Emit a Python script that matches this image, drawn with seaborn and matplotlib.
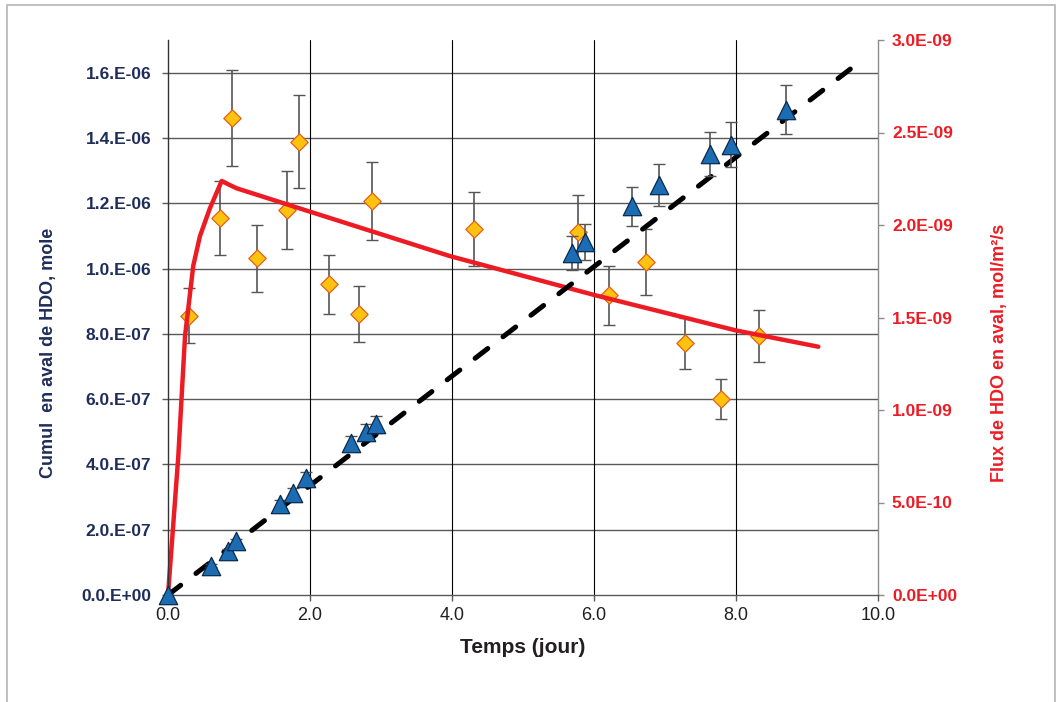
import matplotlib
matplotlib.use('Agg')
import matplotlib.pyplot as plt
import seaborn as sns
from matplotlib.lines import Line2D
from matplotlib.patches import Rectangle

sns.set_theme(style='white')
plt.rcParams['font.family'] = ['Liberation Sans', 'DejaVu Sans']

# cumulative HDO downstream (left axis), triangles
cumul_t = [0.0, 0.61, 0.85, 0.96, 1.58, 1.76, 1.94, 2.58, 2.79, 2.93,
           5.69, 5.87, 6.54, 6.92, 7.64, 7.93, 8.71]
cumul = [0.0, 0.89e-7, 1.35e-7, 1.65e-7, 2.78e-7, 3.12e-7, 3.58e-7, 4.65e-7, 4.99e-7, 5.23e-7,
         10.47e-7, 10.81e-7, 11.90e-7, 12.56e-7, 13.51e-7, 13.79e-7, 14.87e-7]
cumul_err = [0.0, 0.045e-7, 0.07e-7, 0.08e-7, 0.14e-7, 0.16e-7, 0.18e-7, 0.23e-7, 0.25e-7, 0.26e-7,
             0.52e-7, 0.54e-7, 0.60e-7, 0.63e-7, 0.68e-7, 0.69e-7, 0.74e-7]

# HDO flux downstream (right axis), diamonds
flux_t = [0.30, 0.73, 0.90, 1.26, 1.67, 1.85, 2.27, 2.69, 2.87,
          4.31, 5.77, 6.21, 6.73, 7.28, 7.79, 8.32]
flux = [1.51e-9, 2.04e-9, 2.58e-9, 1.82e-9, 2.08e-9, 2.45e-9, 1.68e-9, 1.52e-9, 2.13e-9,
        1.98e-9, 1.96e-9, 1.62e-9, 1.80e-9, 1.36e-9, 1.06e-9, 1.40e-9]
flux_err = [0.15e-9, 0.20e-9, 0.26e-9, 0.18e-9, 0.21e-9, 0.25e-9, 0.16e-9, 0.15e-9, 0.21e-9,
            0.20e-9, 0.20e-9, 0.16e-9, 0.18e-9, 0.14e-9, 0.11e-9, 0.14e-9]

# model curves
model_cumul_t = [0.0, 9.61]
model_cumul = [0.0, 1.611e-6]
model_flux_t = [0.0, 0.07, 0.145, 0.24, 0.356, 0.45, 0.59, 0.756, 0.87, 0.97, 2.0, 3.97, 6.0, 8.0, 9.16]
model_flux = [0.0, 0.36e-9, 0.75e-9, 1.40e-9, 1.78e-9, 1.94e-9, 2.09e-9, 2.238e-9, 2.216e-9,
              2.198e-9, 2.072e-9, 1.832e-9, 1.622e-9, 1.43e-9, 1.342e-9]

x_ticks = [0, 2, 4, 6, 8, 10]
x_ticklabels = ['0.0', '2.0', '4.0', '6.0', '8.0', '10.0']
left_ticks = [0, 2e-7, 4e-7, 6e-7, 8e-7, 1e-6, 1.2e-6, 1.4e-6, 1.6e-6]
left_ticklabels = ['0.0.E+00', '2.0.E-07', '4.0.E-07', '6.0.E-07', '8.0.E-07',
                   '1.0.E-06', '1.2.E-06', '1.4.E-06', '1.6.E-06']
right_ticks = [0, 5e-10, 1e-9, 1.5e-9, 2e-9, 2.5e-9, 3e-9]
right_ticklabels = ['0.0E+00', '5.0E-10', '1.0E-09', '1.5E-09', '2.0E-09', '2.5E-09', '3.0E-09']

navy = '#1f2d5a'
red = '#ed1c24'
grid_grey = '#5a5a5a'

fig = plt.figure(figsize=(10.63, 7.02), dpi=100)
ax = fig.add_axes([168 / 1063, 1 - 595 / 702, 710 / 1063, 555 / 702])
ax2 = ax.twinx()
ax.set_zorder(ax2.get_zorder() + 1)
ax.patch.set_visible(False)

ax.set_xlim(0, 10)
ax.set_ylim(0, 1.7e-6)
ax2.set_ylim(0, 3.0e-9)

# grid drawn on the lower axes so the flux curve sits above it
for y in left_ticks[1:]:
    ax2.add_line(Line2D([0, 1], [y, y], transform=ax.get_yaxis_transform(),
                        color=grid_grey, lw=1, zorder=0.5))
for x in x_ticks[1:-1]:
    ax2.axvline(x, color='black', lw=0.8, zorder=0.5)

# flux (right axis)
ax2.errorbar(flux_t, flux, yerr=flux_err, fmt='none', ecolor='#555555',
             elinewidth=1.2, capsize=4.5, capthick=1, zorder=2)
sns.scatterplot(x=flux_t, y=flux, ax=ax2, marker='D', s=78, color='#ffc20e',
                edgecolor='#e2611c', linewidth=0.9, zorder=3)
sns.lineplot(x=model_flux_t, y=model_flux, ax=ax2, color=red, lw=3.2,
             solid_capstyle='round', solid_joinstyle='round', zorder=4, clip_on=False)

# cumul (left axis)
sns.lineplot(x=model_cumul_t, y=model_cumul, ax=ax, color='black', lw=3.6,
             linestyle=(0, (3.2, 3.85)), dash_capstyle='round', zorder=3, clip_on=False)
ax.errorbar(cumul_t, cumul, yerr=cumul_err, fmt='none', ecolor='#555555',
            elinewidth=1.2, capsize=4.5, capthick=1, zorder=4)
sns.scatterplot(x=cumul_t, y=cumul, ax=ax, marker='^', s=175, color='#1c6cb4',
                edgecolor='#0b2a4a', linewidth=0.9, zorder=5, clip_on=False)

ax.set_xlim(0, 10)
ax.set_ylim(0, 1.7e-6)
ax2.set_ylim(0, 3.0e-9)

ax.set_xticks(x_ticks)
ax.set_xticklabels(x_ticklabels, fontsize=13, color='#231f20')
ax.set_yticks(left_ticks)
ax.set_yticklabels(left_ticklabels, fontsize=12.5, fontweight='bold', color=navy)
ax2.set_yticks(right_ticks)
ax2.set_yticklabels(right_ticklabels, fontsize=12.5, fontweight='bold', color=red)

ax.tick_params(axis='x', direction='out', length=4, width=1, color=grid_grey, pad=5, bottom=True)
ax.tick_params(axis='y', direction='out', length=4, width=1, color=grid_grey, pad=8, left=True)
ax2.tick_params(axis='y', direction='out', length=4, width=1, color='#8c8c8c', pad=6, right=True)

for s in ['top', 'right']:
    ax.spines[s].set_visible(False)
for s in ['top', 'left', 'bottom']:
    ax2.spines[s].set_visible(False)
ax.spines['left'].set_color('#333333')
ax.spines['left'].set_linewidth(1)
ax.spines['bottom'].set_color(grid_grey)
ax.spines['bottom'].set_linewidth(1)
ax2.spines['right'].set_color('#8c8c8c')
ax2.spines['right'].set_linewidth(1)

ax.set_xlabel('Temps (jour)', fontsize=15, fontweight='bold', color='#231f20')
ax.xaxis.set_label_coords(0.5, -0.078)
ax.set_ylabel('Cumul  en aval de HDO, mole', fontsize=13, fontweight='bold', color=navy)
ax.yaxis.set_label_coords(-0.156, 0.437)
ax2.set_ylabel('Flux de HDO en aval, mol/m²/s', fontsize=13, fontweight='bold', color=red)
ax2.yaxis.set_label_coords(1.159, 0.437)

fig.add_artist(Rectangle((7 / 1063, -0.1), 1048 / 1063, 1.1 - 5 / 702,
                         transform=fig.transFigure, fill=False,
                         edgecolor='#b4b4b4', lw=1.2))

fig.savefig('out.png', dpi=100)
